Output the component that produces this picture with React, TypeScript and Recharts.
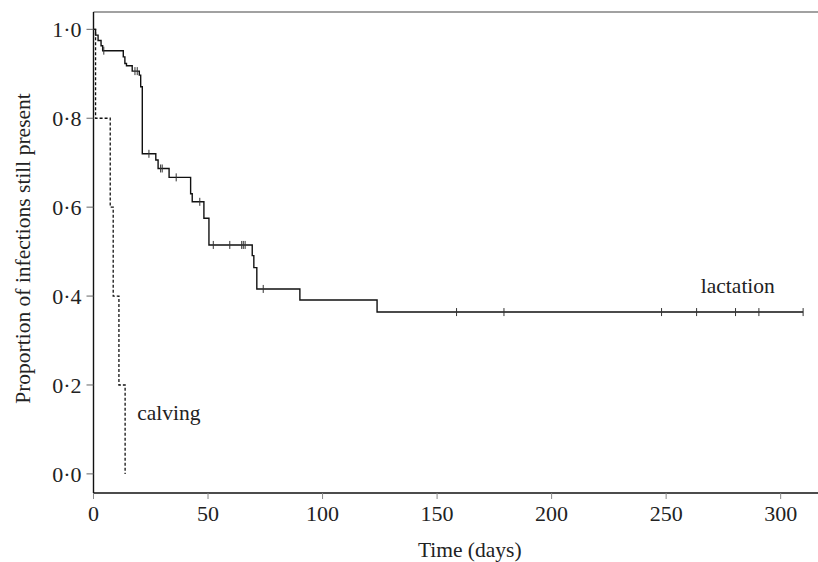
import React from 'react';
import { ComposedChart, Line, Scatter, XAxis, YAxis, ReferenceDot, ReferenceLine } from 'recharts';

// Kaplan-Meier style step data (time in days, proportion still present)
const lactationTimes = [0, 0.9, 2.0, 3.3, 4.0, 13.0, 13.7, 14.4, 16.9, 20.0, 20.6, 21.3, 27.2, 28.2, 33.0, 42.4, 43.1, 48.2, 50.4, 69.3, 70.0, 71.3, 90.1, 123.8, 309.8];
const lactationValues = [1.0, 0.987, 0.975, 0.963, 0.952, 0.938, 0.923, 0.918, 0.906, 0.897, 0.871, 0.72, 0.706, 0.687, 0.667, 0.63, 0.612, 0.575, 0.515, 0.491, 0.464, 0.416, 0.391, 0.364, 0.364];

const censorTimes = [4.5, 18.1, 19.1, 24.2, 29.3, 30.0, 36.1, 46.4, 52.3, 59.5, 64.7, 65.4, 66.2, 74.1, 158.5, 179.2, 248.0, 263.3, 280.3, 290.5, 309.8];
const censorValues = [0.952, 0.906, 0.906, 0.72, 0.687, 0.687, 0.667, 0.612, 0.515, 0.515, 0.515, 0.515, 0.515, 0.416, 0.364, 0.364, 0.364, 0.364, 0.364, 0.364, 0.364];

const calvingTimes = [0, 0.9, 7.3, 8.6, 11.1, 13.8];
const calvingValues = [1.0, 0.8, 0.6, 0.4, 0.2, 0.0];

const xTicks = [0, 50, 100, 150, 200, 250, 300];
const yTicks = [0, 0.2, 0.4, 0.6, 0.8, 1.0];

const X_MAX = 316.3;
const Y_MIN = -0.043;
const Y_MAX = 1.039;

const lactationData = lactationTimes.map((t, i) => ({ t, s: lactationValues[i] }));
const censorData = censorTimes.map((t, i) => ({ t, s: censorValues[i] }));
const calvingData = calvingTimes.map((t, i) => ({ t, s: calvingValues[i] }));

const FONT = '"Liberation Serif", "Times New Roman", serif';

const CensorMark = (props: any) => {
  const { cx, cy } = props;
  if (cx == null || cy == null) return null;
  return <line x1={cx} x2={cx} y1={cy - 4} y2={cy + 4} stroke="#333" strokeWidth={1} />;
};

const fmtY = (v: number) => v.toFixed(1).replace('.', '\u00B7');

export default function App() {
  return (
    <div style={{ position: 'absolute', left: 0, top: 0, background: '#fff' }}>
      <ComposedChart
        width={818}
        height={562}
        margin={{ top: 12, right: 0, bottom: 0, left: 0 }}
        style={{ fontFamily: FONT }}
      >
        <XAxis
          type="number"
          dataKey="t"
          domain={[0, X_MAX]}
          allowDataOverflow
          ticks={xTicks}
          height={69}
          tickSize={6}
          tickMargin={6}
          tick={{ fill: '#222', fontSize: 22, fontFamily: FONT }}
          tickLine={{ stroke: '#888' }}
          axisLine={{ stroke: '#111', strokeWidth: 1.4 }}
          label={{ value: 'Time (days)', position: 'insideBottom', offset: 5, dx: 14, fill: '#222', fontSize: 21.5, fontFamily: FONT }}
        />
        <YAxis
          type="number"
          dataKey="s"
          domain={[Y_MIN, Y_MAX]}
          allowDataOverflow
          ticks={yTicks}
          tickFormatter={fmtY}
          width={93.5}
          tickSize={7}
          tickMargin={5}
          tick={{ fill: '#222', fontSize: 22, fontFamily: FONT }}
          tickLine={{ stroke: '#666' }}
          axisLine={{ stroke: '#111', strokeWidth: 1.4 }}
          label={{ value: 'Proportion of infections still present', angle: -90, position: 'insideLeft', offset: 22, dy: -4, textAnchor: 'middle', fill: '#222', fontSize: 21.5, fontFamily: FONT }}
        />
        <ReferenceLine y={Y_MAX} stroke="#444" strokeWidth={1.2} ifOverflow="visible" />
        <Line
          data={calvingData}
          dataKey="s"
          type="stepAfter"
          stroke="#111"
          strokeWidth={1.3}
          strokeDasharray="3 2"
          dot={false}
          activeDot={false}
          isAnimationActive={false}
        />
        <Line
          data={lactationData}
          dataKey="s"
          type="stepAfter"
          stroke="#111"
          strokeWidth={1.4}
          dot={false}
          activeDot={false}
          isAnimationActive={false}
        />
        <Scatter data={censorData} dataKey="s" shape={<CensorMark />} isAnimationActive={false} />
        <ReferenceDot x={281.3} y={0.425} r={0} stroke="none" fill="none"
          label={{ value: 'lactation', position: 'center', fill: '#222', fontSize: 21.5, fontFamily: FONT }} />
        <ReferenceDot x={32.9} y={0.139} r={0} stroke="none" fill="none"
          label={{ value: 'calving', position: 'center', fill: '#222', fontSize: 21.5, fontFamily: FONT }} />
      </ComposedChart>
    </div>
  );
}
